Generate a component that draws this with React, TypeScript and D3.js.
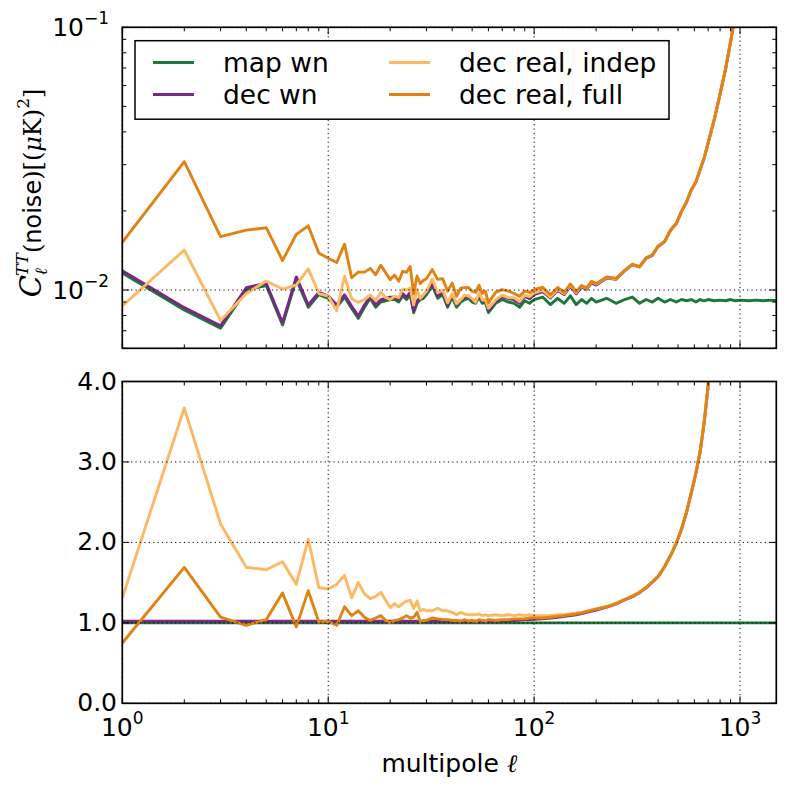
import * as d3 from 'd3';

// multipoles sampled (every l at low l, sparser above)
const ell = [
  1, 2, 3, 4, 5, 6, 7, 8, 9, 10, 11, 12, 13, 14, 15, 16, 17, 18, 19, 20,
  21, 22, 23, 24, 25, 26, 27, 28, 29, 30,
  32, 34, 36, 38, 40, 42, 44, 46, 48, 50, 52, 54, 56, 58, 60,
  65, 70, 75, 80, 85, 90, 95, 100,
  110, 120, 130, 140, 150, 160, 170, 180, 190, 200,
  225, 250, 275, 300, 325, 350, 375, 400,
  430, 460, 490, 520, 550, 580, 610, 640, 670, 700,
  750, 800, 850, 900, 950, 1000,
  1100, 1200, 1300, 1400, 1500,
];

// upper panel, map white noise C_l
const mapWn = [
  0.0116, 0.0084, 0.00716, 0.01, 0.0104, 0.00736, 0.011, 0.0086, 0.0096, 0.0093,
  0.0086, 0.0094, 0.0085, 0.0078, 0.0086, 0.0093, 0.0086, 0.009, 0.0091, 0.0092,
  0.0092, 0.009, 0.0095, 0.0092, 0.0096, 0.0082, 0.0089, 0.0092, 0.0093, 0.0096,
  0.0104, 0.0093, 0.0096, 0.0086, 0.0094, 0.0086, 0.009, 0.0092, 0.0093, 0.009,
  0.0089, 0.0094, 0.0089, 0.009, 0.0082,
  0.0089, 0.0092, 0.009, 0.0089, 0.0086, 0.0091, 0.0089, 0.0092,
  0.0094, 0.0088, 0.0093, 0.0089, 0.0095, 0.0088, 0.0092, 0.0089, 0.0093, 0.009,
  0.0093, 0.0089, 0.0092, 0.0094, 0.0089, 0.0092, 0.009, 0.0093,
  0.009, 0.0092, 0.009, 0.0092, 0.0091, 0.0092, 0.009, 0.0092, 0.0091, 0.0092,
  0.0091, 0.00915, 0.0091, 0.0092, 0.0091, 0.00915,
  0.0091, 0.00915, 0.0091, 0.00915, 0.0091,
];

// ratios to map wn (lower panel)
const decWnRatio = [
  1.02, 1.02, 1.02, 1.02, 1.02, 1.02, 1.02, 1.02, 1.02, 1.02,
  1.02, 1.02, 1.02, 1.02, 1.02, 1.02, 1.02, 1.02, 1.02, 1.02,
  1.02, 1.02, 1.02, 1.02, 1.02, 1.02, 1.02, 1.02, 1.02, 1.02,
  1.02, 1.02, 1.02, 1.02, 1.02, 1.02, 1.02, 1.02, 1.02, 1.02,
  1.02, 1.02, 1.02, 1.02, 1.02,
  1.02, 1.025, 1.03, 1.03, 1.035, 1.04, 1.04, 1.045,
  1.05, 1.06, 1.07, 1.08, 1.09, 1.1, 1.115, 1.13, 1.145, 1.16,
  1.195, 1.235, 1.285, 1.325, 1.375, 1.435, 1.505, 1.575,
  1.695, 1.835, 1.985, 2.165, 2.375, 2.615, 2.855, 3.125, 3.495, 3.945,
  4.9, 6.1, 7.6, 9.6, 12.3, 16,
  27, 45, 80, 140, 250,
];

// smaller low-l excess: "indep" in the upper panel, dark curve below
const lowExcess = [
  0.75, 1.69, 1.07, 0.97, 1.04, 1.37, 0.95, 1.4, 1.01, 1.02,
  0.97, 1.2, 1.09, 1.15, 1.07, 1.03, 1.06, 1.09, 1.03, 1.0,
  1.03, 1.04, 1.06, 1.09, 1.06, 1.07, 1.13, 1.01, 1.03, 1.03,
  1.06, 1.05, 1.04, 1.04, 1.03, 1.03, 1.02, 1.04, 1.02, 1.03,
  1.01, 1.04, 1.03, 1.02, 1.04,
  1.03, 1.04, 1.04, 1.05, 1.05, 1.05, 1.06, 1.06,
  1.06, 1.07, 1.08, 1.09, 1.1, 1.11, 1.125, 1.14, 1.155, 1.17,
  1.2, 1.24, 1.29, 1.33, 1.38, 1.44, 1.51, 1.58,
  1.7, 1.84, 1.99, 2.17, 2.38, 2.62, 2.86, 3.13, 3.5, 3.95,
  4.9, 6.1, 7.6, 9.6, 12.3, 16,
  27, 45, 80, 140, 250,
];

// larger low-l excess: "full" in the upper panel, light curve below
const highExcess = [
  1.31, 3.67, 2.23, 1.69, 1.66, 1.76, 1.48, 2.04, 1.44, 1.42,
  1.48, 1.59, 1.31, 1.5, 1.36, 1.3, 1.33, 1.38, 1.28, 1.19,
  1.24, 1.2, 1.24, 1.27, 1.28, 1.18, 1.27, 1.15, 1.17, 1.15,
  1.15, 1.18, 1.15, 1.15, 1.13, 1.1, 1.13, 1.11, 1.1, 1.1,
  1.1, 1.11, 1.09, 1.1, 1.09,
  1.1, 1.09, 1.1, 1.09, 1.1, 1.09, 1.1, 1.09,
  1.09, 1.09, 1.1, 1.1, 1.11, 1.12, 1.13, 1.145, 1.16, 1.175,
  1.205, 1.245, 1.29, 1.335, 1.38, 1.44, 1.51, 1.58,
  1.7, 1.84, 1.99, 2.17, 2.38, 2.62, 2.86, 3.13, 3.5, 3.95,
  4.9, 6.1, 7.6, 9.6, 12.3, 16,
  27, 45, 80, 140, 250,
];

const labels = ['map wn', 'dec wn', 'dec real, indep', 'dec real, full'];
const colors = ['#1b7837', '#762a83', '#fdb863', '#e08214'];

const xMajor = [1, 10, 100, 1000];
const xExp = ['0', '1', '2', '3'];
const topMajor = [0.01, 0.1];
const topExp = ['\u22122', '\u22121'];
const botMajor = [0, 1, 2, 3, 4];
const botLabels = ['0.0', '1.0', '2.0', '3.0', '4.0'];

const W = 789;
const H = 790;
const L = 122.3;
const R = 776.3;
const font = 'DejaVu Sans';

type Panel = {
  id: string;
  top: number;
  bottom: number;
  y: (v: number) => number;
  yMajor: number[];
  yMinor: number[];
  series: number[][];
};

function App() {
  const x = d3.scaleLog().domain([1, 1500]).range([L, R]);
  const yTop = d3.scaleLog().domain([0.006, 0.1]).range([348.3, 27.3]);
  const yBot = d3.scaleLinear().domain([0, 4]).range([703.3, 381.5]);

  const xMinor: number[] = [];
  xMajor.forEach((d) => {
    for (let k = 2; k <= 9; k++) if (k * d <= 1500) xMinor.push(k * d);
  });
  const topMinor = [0.006, 0.007, 0.008, 0.009, 0.02, 0.03, 0.04, 0.05, 0.06, 0.07, 0.08, 0.09];

  const upper = [
    mapWn,
    mapWn.map((v, i) => v * decWnRatio[i]),
    mapWn.map((v, i) => v * lowExcess[i]),
    mapWn.map((v, i) => v * highExcess[i]),
  ];
  // lower panel: everything divided by map wn; the two orange curves swap order
  const lower = [mapWn.map((v) => v / v), decWnRatio, highExcess, lowExcess];

  const panels: Panel[] = [
    { id: 'top', top: 27.3, bottom: 348.3, y: yTop, yMajor: topMajor, yMinor: topMinor, series: upper },
    { id: 'bot', top: 381.5, bottom: 703.3, y: yBot, yMajor: botMajor, yMinor: [], series: lower },
  ];

  return (
    <svg width={W} height={H} style={{ position: 'absolute', left: 0, top: 0, background: '#fff' }}>
      <defs>
        {panels.map((p) => (
          <clipPath id={`clip-${p.id}`} key={p.id}>
            <rect x={L} y={p.top} width={R - L} height={p.bottom - p.top} />
          </clipPath>
        ))}
      </defs>
      {panels.map((p) => {
        const line = d3
          .line<number>()
          .x((_, i) => x(ell[i]))
          .y((d) => p.y(d));
        return (
          <g key={p.id}>
            <g clipPath={`url(#clip-${p.id})`}>
              {p.series.map((s, si) => (
                <path
                  key={si}
                  d={line(s) ?? undefined}
                  fill="none"
                  stroke={colors[si]}
                  strokeWidth={2.9}
                  strokeLinejoin="round"
                />
              ))}
            </g>
            {/* grid */}
            <g stroke="#000" strokeWidth={1} strokeDasharray="1.2,3.2">
              {xMajor.map((d) => (
                <line key={'gx' + d} x1={x(d)} x2={x(d)} y1={p.top} y2={p.bottom} />
              ))}
              {p.yMajor.map((d) => (
                <line key={'gy' + d} x1={L} x2={R} y1={p.y(d)} y2={p.y(d)} />
              ))}
            </g>
            {/* ticks, inward on all sides */}
            <g stroke="#000" strokeWidth={1}>
              {xMajor.map((d) => (
                <g key={'tx' + d}>
                  <line x1={x(d)} x2={x(d)} y1={p.bottom} y2={p.bottom - 7} />
                  <line x1={x(d)} x2={x(d)} y1={p.top} y2={p.top + 7} />
                </g>
              ))}
              {xMinor.map((d) => (
                <g key={'mx' + d}>
                  <line x1={x(d)} x2={x(d)} y1={p.bottom} y2={p.bottom - 4} />
                  <line x1={x(d)} x2={x(d)} y1={p.top} y2={p.top + 4} />
                </g>
              ))}
              {p.yMajor.map((d) => (
                <g key={'ty' + d}>
                  <line x1={L} x2={L + 7} y1={p.y(d)} y2={p.y(d)} />
                  <line x1={R} x2={R - 7} y1={p.y(d)} y2={p.y(d)} />
                </g>
              ))}
              {p.yMinor.map((d) => (
                <g key={'my' + d}>
                  <line x1={L} x2={L + 4} y1={p.y(d)} y2={p.y(d)} />
                  <line x1={R} x2={R - 4} y1={p.y(d)} y2={p.y(d)} />
                </g>
              ))}
            </g>
            <rect
              x={L}
              y={p.top}
              width={R - L}
              height={p.bottom - p.top}
              fill="none"
              stroke="#000"
              strokeWidth={1.7}
            />
          </g>
        );
      })}

      {/* y tick labels */}
      <g fontFamily={font} fontSize={25} fill="#000">
        {topMajor.map((d, i) => (
          <text key={'lt' + d} x={109} y={yTop(d) + 9} textAnchor="end">
            <tspan>10</tspan>
            <tspan fontSize={17} dy={-12}>
              {topExp[i]}
            </tspan>
          </text>
        ))}
        {botMajor.map((d, i) => (
          <text key={'lb' + d} x={117} y={yBot(d) + 8} textAnchor="end">
            {botLabels[i]}
          </text>
        ))}
        {xMajor.map((d, i) => (
          <text key={'lx' + d} x={x(d)} y={736} textAnchor="middle">
            <tspan>10</tspan>
            <tspan fontSize={17} dy={-12}>
              {xExp[i]}
            </tspan>
          </text>
        ))}
      </g>

      {/* axis labels */}
      <text x={(L + R) / 2} y={772} textAnchor="middle" fontFamily={font} fontSize={25}>
        multipole <tspan fontFamily="DejaVu Serif" fontStyle="italic">{'\u2113'}</tspan>
      </text>
      <text
        transform="translate(41,193) rotate(-90)"
        textAnchor="middle"
        fontFamily="DejaVu Serif"
        fontSize={24}
      >
        <tspan fontStyle="italic" fontSize={29}>C</tspan>
        <tspan fontStyle="italic" fontSize={17} dy={6}>{'\u2113'}</tspan>
        <tspan fontStyle="italic" fontSize={17} dx={-8} dy={-19}>TT</tspan>
        <tspan dy={13}>(</tspan>
        <tspan fontFamily={font}>noise</tspan>
        <tspan>)[(</tspan>
        <tspan fontStyle="italic">{'\u03bc'}</tspan>
        <tspan>K)</tspan>
        <tspan fontSize={17} dy={-12}>2</tspan>
        <tspan dy={12}>]</tspan>
      </text>

      {/* legend */}
      <g>
        <rect x={135} y={40.7} width={534} height={78.5} fill="#fff" stroke="#000" strokeWidth={1.5} />
        {labels.map((lab, i) => {
          const col = i < 2 ? 0 : 1;
          const row = i % 2;
          const lx = col === 0 ? 153 : 389;
          const ly = row === 0 ? 62.5 : 94.5;
          return (
            <g key={lab}>
              <line x1={lx} x2={lx + 41} y1={ly} y2={ly} stroke={colors[i]} strokeWidth={2.9} />
              <text x={lx + 70} y={ly + 9} fontFamily={font} fontSize={26.5}>
                {lab}
              </text>
            </g>
          );
        })}
      </g>
    </svg>
  );
}

export default App;
